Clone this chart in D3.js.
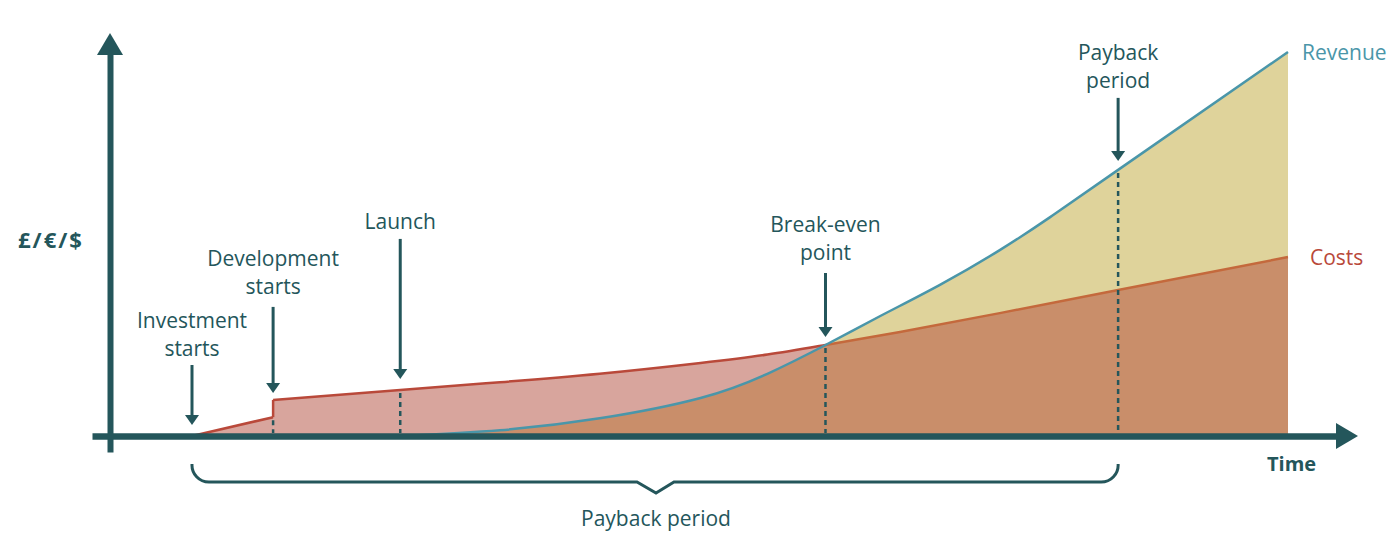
<!DOCTYPE html>
<html>
<head>
<meta charset="utf-8">
<script src="https://cdn.jsdelivr.net/npm/d3@7"></script>
<style>
  html, body { margin: 0; padding: 0; background: #ffffff; }
  svg { display: block; }
  text { font-family: "Open Sans", "Noto Sans", sans-serif; }
</style>
</head>
<body>
<div id="chart"></div>
<script>
// ---------------- DATA ----------------
// Time runs 0..100 (investment start .. end of chart); value runs 0..100.
// Ramp before development starts
const rampTime  = [0, 7.4];
const rampValue = [0, 4.9];
// Costs from development start onwards
const costTime  = [7.4, 19.0, 28.1, 37.2, 46.4, 52.5, 57.8, 64.6, 73.7, 84.5, 100];
const costValue = [9.4, 12.0, 14.0, 16.2, 19.0, 21.2, 23.7, 27.1, 32.0, 38.0, 46.6];

const revenueTime  = [19.0, 28.1, 37.2, 46.4, 52.5, 57.8, 62.8, 68.2, 73.7, 78.3, 84.5, 100];
const revenueValue = [0,    1.5,  4.6,  9.9,  16.2, 23.7, 31.25, 39.3, 48.4, 57.0, 69.3, 100];

const breakEvenTime = 57.8;

const eventLabels = [["Investment", "starts"], ["Development", "starts"], ["Launch"], ["Break-even", "point"], ["Payback", "period"]];
const eventTime   = [0, 7.4, 19.0, 57.8, 84.5];
const eventLineTop = [0, 4.9, 12.0, 23.7, 69.3];   // value where dotted guide starts
const eventTipValue = [0, 9.4, 12.0, 23.7, 69.3];  // value the arrow points at

const seriesLabels = ["Revenue", "Costs"];
const yAxisLabel = "£/€/$";
const xAxisLabel = "Time";
const spanLabel = "Payback period";
const spanStart = 0, spanEnd = 84.5;

// ---------------- LAYOUT / STYLE ----------------
const W = 1389, H = 533;
const teal = "#24565b";
const revColor = "#4a96a9";
const costColor = "#b9493a";
const costColor2 = "#c4693c";
const pinkFill = "#d8a59d";
const brownFill = "#c98e6a";
const yellowFill = "#dfd39b";

const arrowLen = [60, 86, 140, 64, 63];
const tipGap   = [11, 7, 11, 8, 9];
const labelGap = [9, 13, 10, 13, 10];
const lineH = 28;

const x = d3.scaleLinear().domain([0, 100]).range([192, 1288]);
const y = d3.scaleLinear().domain([0, 100]).range([436, 52]);

const svg = d3.select("#chart").append("svg").attr("width", W).attr("height", H);

const rampPts = rampTime.map((t, i) => [t, rampValue[i]]);
const costPts = costTime.map((t, i) => [t, costValue[i]]);
const revPts = revenueTime.map((t, i) => [t, revenueValue[i]]);

const rampArea = d3.area().x(d => x(d[0])).y0(y(0)).y1(d => y(d[1])).curve(d3.curveLinear);
const costArea = d3.area().x(d => x(d[0])).y0(y(0)).y1(d => y(d[1])).curve(d3.curveNatural);
const revArea = d3.area().x(d => x(d[0])).y0(y(0)).y1(d => y(d[1])).curve(d3.curveNatural);
const rampLine = d3.line().x(d => x(d[0])).y(d => y(d[1])).curve(d3.curveLinear);
const costLine = d3.line().x(d => x(d[0])).y(d => y(d[1])).curve(d3.curveNatural);
const revLine = d3.line().x(d => x(d[0])).y(d => y(d[1])).curve(d3.curveNatural);

const defs = svg.append("defs");
defs.append("clipPath").attr("id", "costClip").append("path").attr("d", costArea(costPts));
defs.append("clipPath").attr("id", "afterBE").append("rect")
  .attr("x", x(breakEvenTime)).attr("y", 0).attr("width", W).attr("height", H);
defs.append("clipPath").attr("id", "beforeBE").append("rect")
  .attr("x", 0).attr("y", 0).attr("width", x(breakEvenTime)).attr("height", H);
defs.append("clipPath").attr("id", "aboveAxis").append("rect")
  .attr("x", 0).attr("y", 0).attr("width", W).attr("height", y(0));

// areas
const areas = svg.append("g").attr("clip-path", "url(#aboveAxis)");
areas.append("path").attr("d", revArea(revPts)).attr("fill", yellowFill);
areas.append("path").attr("d", rampArea(rampPts)).attr("fill", pinkFill);
areas.append("path").attr("d", costArea(costPts)).attr("fill", pinkFill);
areas.append("path").attr("d", revArea(revPts)).attr("fill", brownFill).attr("clip-path", "url(#costClip)");

// lines
const jumpPath = `M${x(rampTime[1])},${y(rampValue[1])} L${x(costTime[0])},${y(costValue[0])}`;
svg.append("path").attr("d", rampLine(rampPts))
  .attr("fill", "none").attr("stroke", costColor).attr("stroke-width", 2.5);
svg.append("path").attr("d", jumpPath).attr("fill", "none").attr("stroke", costColor).attr("stroke-width", 2.5);
svg.append("path").attr("d", costLine(costPts)).attr("fill", "none").attr("stroke", costColor)
  .attr("stroke-width", 2.5).attr("clip-path", "url(#beforeBE)");
svg.append("path").attr("d", costLine(costPts)).attr("fill", "none").attr("stroke", costColor2)
  .attr("stroke-width", 2.5).attr("clip-path", "url(#afterBE)");
svg.append("path").attr("d", revLine(revPts)).attr("fill", "none").attr("stroke", revColor)
  .attr("stroke-width", 2.5).attr("clip-path", "url(#aboveAxis)");

// dotted guides
eventTime.forEach((t, i) => {
  if (eventLineTop[i] <= 0) return;
  svg.append("line")
    .attr("x1", x(t)).attr("x2", x(t))
    .attr("y1", y(eventLineTop[i]) + 3).attr("y2", y(0) - 3)
    .attr("stroke", teal).attr("stroke-width", 2.5).attr("stroke-dasharray", "5,4");
});

// axes (no ticks)
const xAxisScale = d3.scaleLinear().domain([0, 1]).range([92, 1338]);
const yAxisScale = d3.scaleLinear().domain([0, 1]).range([452, 53]);
const gx = svg.append("g").attr("transform", `translate(0,${y(0)})`)
  .call(d3.axisBottom(xAxisScale).tickValues([]).tickSizeOuter(0));
gx.select(".domain").attr("stroke", teal).attr("stroke-width", 6.5);
const gy = svg.append("g").attr("transform", `translate(110,0)`)
  .call(d3.axisLeft(yAxisScale).tickValues([]).tickSizeOuter(0));
gy.select(".domain").attr("stroke", teal).attr("stroke-width", 6);

// axis arrowheads
svg.append("path").attr("fill", teal)
  .attr("d", `M1336,${y(0) - 13} L1358,${y(0)} L1336,${y(0) + 13} Z`);
svg.append("path").attr("fill", teal)
  .attr("d", `M97,55 L110,33 L123,55 Z`);

// event arrows and labels
eventTime.forEach((t, i) => {
  const cx = x(t);
  const tip = y(eventTipValue[i]) - tipGap[i];
  const top = tip - arrowLen[i];
  svg.append("line").attr("x1", cx).attr("x2", cx).attr("y1", top).attr("y2", tip - 8)
    .attr("stroke", teal).attr("stroke-width", 3);
  svg.append("path").attr("fill", teal)
    .attr("d", `M${cx - 7},${tip - 10} L${cx + 7},${tip - 10} L${cx},${tip} Z`);
  const lines = eventLabels[i];
  const lastBase = top - labelGap[i];
  lines.forEach((s, j) => {
    svg.append("text").attr("x", cx).attr("y", lastBase - (lines.length - 1 - j) * lineH)
      .attr("text-anchor", "middle").attr("fill", teal)
      .attr("font-size", 21).attr("font-weight", 500).text(s);
  });
});

// series labels
svg.append("text").attr("x", x(100) + 14).attr("y", y(revenueValue[revenueValue.length - 1]) + 8)
  .attr("fill", revColor).attr("font-size", 21).attr("font-weight", 500).text(seriesLabels[0]);
svg.append("text").attr("x", x(100) + 22).attr("y", y(costValue[costValue.length - 1]) + 8)
  .attr("fill", costColor).attr("font-size", 21).attr("font-weight", 500).text(seriesLabels[1]);

// axis labels
svg.append("text").attr("x", 18).attr("y", 248).attr("fill", teal)
  .attr("font-size", 22).attr("font-weight", 700).attr("letter-spacing", 2).text(yAxisLabel);
svg.append("text").attr("x", 1267).attr("y", 471).attr("fill", teal)
  .attr("font-size", 20).attr("font-weight", 700).text(xAxisLabel);

// brace for payback span
const bx0 = x(spanStart), bx1 = x(spanEnd), by = 482, r = 17;
const notchX = 656;
const bracePath = `M${bx0},464 A${r},${r} 0 0 0 ${bx0 + r},${by} L${notchX - 19},${by} L${notchX},${by + 11} L${notchX + 18},${by} L${bx1 - r},${by} A${r},${r} 0 0 0 ${bx1},464`;
svg.append("path").attr("d", bracePath).attr("fill", "none").attr("stroke", teal).attr("stroke-width", 3);
svg.append("text").attr("x", notchX).attr("y", 526).attr("text-anchor", "middle").attr("fill", teal)
  .attr("font-size", 21).attr("font-weight", 500).text(spanLabel);
</script>
</body>
</html>
